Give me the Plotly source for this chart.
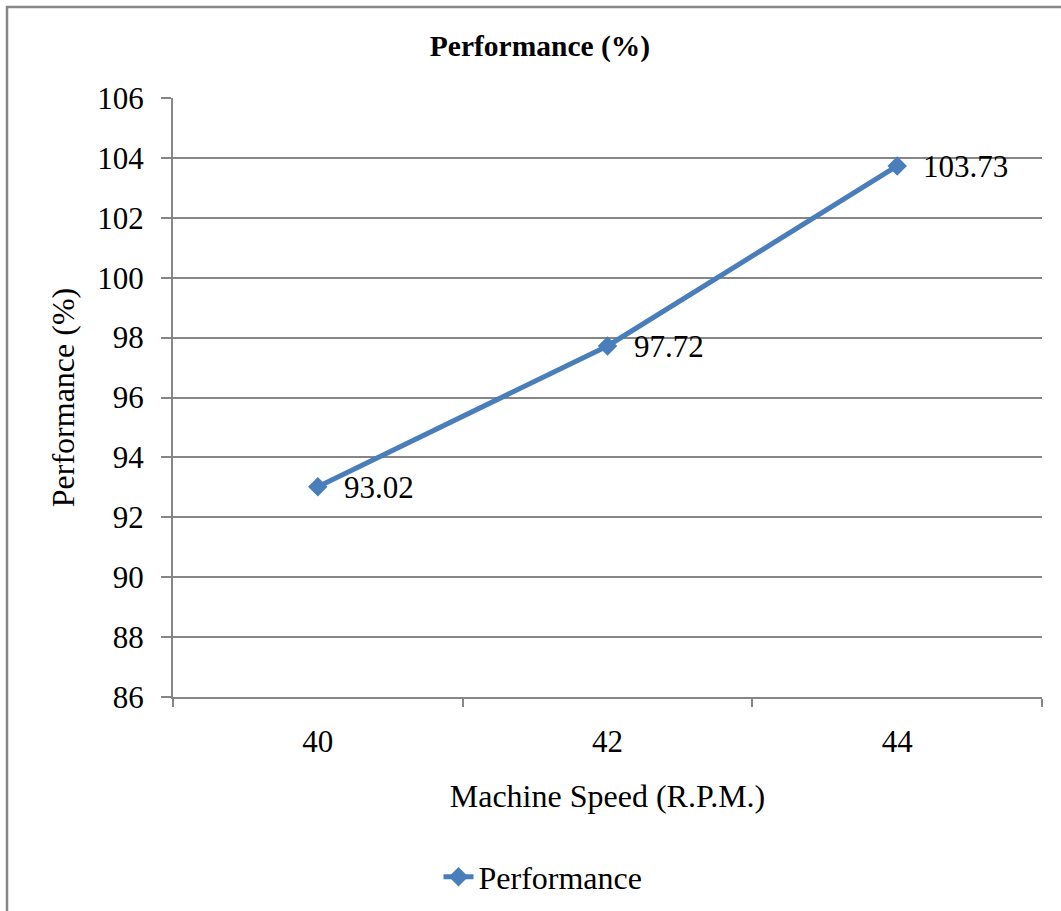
import plotly.graph_objects as go

categories = ["40", "42", "44"]
performance = [93.02, 97.72, 103.73]
y_ticks = [86, 88, 90, 92, 94, 96, 98, 100, 102, 104, 106]

W, H = 1061, 911
L, R, T, B = 173, 1042, 98, 697
FONT = "Liberation Serif, Times New Roman, serif"
BLUE = "#4A7EBB"
GRAY = "#868686"

def px2paper_x(px):
    return (px - L) / (R - L)

def px2paper_y(py):
    return (B - py) / (B - T)

fig = go.Figure()
fig.add_trace(go.Scatter(
    x=categories, y=performance, mode="lines+markers", name="Performance",
    line=dict(color=BLUE, width=5),
    marker=dict(symbol="diamond", size=15, color=BLUE),
))

for i, v in enumerate(performance):
    fig.add_annotation(x=i, y=v, text=f"{v:.2f}", showarrow=False,
                       xref="x", yref="y",
                       xanchor="left", yanchor="middle", xshift=24, yshift=-1,
                       font=dict(family=FONT, size=31, color="black"))

# outer chart border
fig.add_shape(type="rect", xref="paper", yref="paper",
              x0=px2paper_x(7), x1=px2paper_x(1075),
              y0=px2paper_y(925), y1=px2paper_y(7),
              line=dict(color=GRAY, width=2.5), layer="above")

fig.update_layout(
    width=W, height=H,
    margin=dict(l=L, r=W - R, t=T, b=H - B),
    paper_bgcolor="white", plot_bgcolor="white",
    font=dict(family=FONT, size=31, color="black"),
    title=dict(text="<b>Performance (%)</b>", x=540 / W, xanchor="center",
               xref="container", yref="container", y=1 - 46 / H, yanchor="middle",
               font=dict(family=FONT, size=29.5, color="black")),
    showlegend=True,
    legend=dict(orientation="h", xref="container", yref="container",
                x=543 / W, xanchor="center", y=1 - 877 / H, yanchor="middle",
                font=dict(family=FONT, size=32, color="black")),
    xaxis=dict(type="category", range=[-0.5, 2.5], tickson="boundaries",
               showline=True, linecolor=GRAY, linewidth=2,
               ticks="outside", ticklen=8, tickcolor=GRAY, tickwidth=2,
               showgrid=False, zeroline=False, ticklabelstandoff=16,
               tickfont=dict(family=FONT, size=31),
               title=dict(text="Machine Speed (R.P.M.)", standoff=26,
                          font=dict(family=FONT, size=32))),
    yaxis=dict(range=[86, 106], tickvals=y_ticks, showline=True, linecolor=GRAY,
               linewidth=2, ticks="outside", ticklen=10, tickcolor=GRAY, tickwidth=2,
               showgrid=True, gridcolor=GRAY, gridwidth=2, zeroline=False,
               ticklabelstandoff=11,
               tickfont=dict(family=FONT, size=31),
               title=dict(text="Performance (%)", standoff=13,
                          font=dict(family=FONT, size=32))),
)

fig.write_html("out.html")
